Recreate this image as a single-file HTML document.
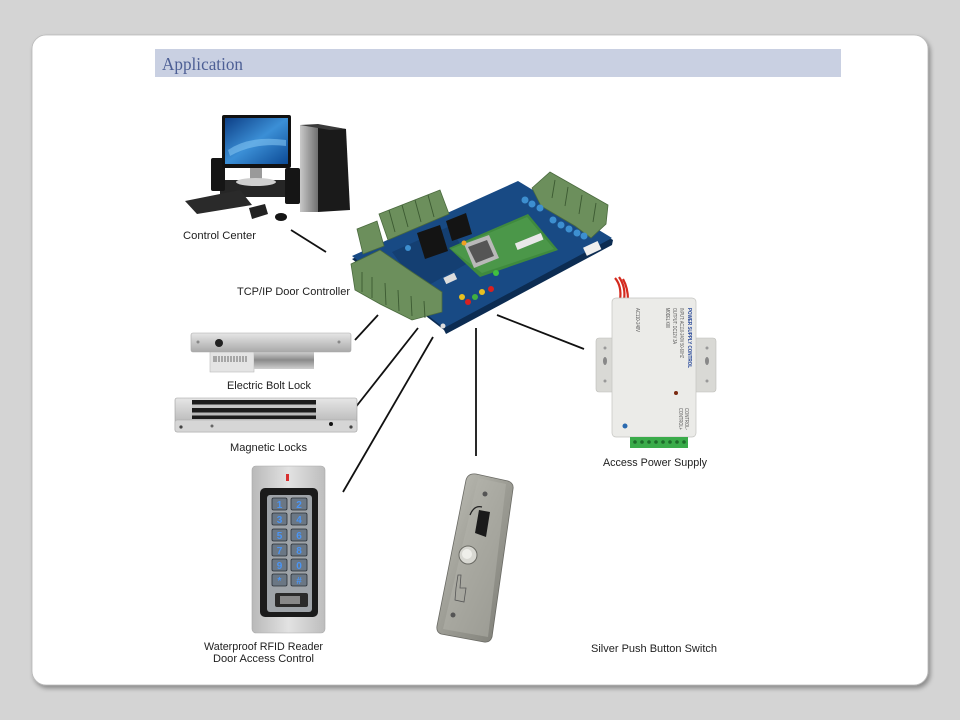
<!DOCTYPE html>
<html><head><meta charset="utf-8"><style>
html,body{margin:0;padding:0;background:#d4d4d4;}
svg{display:block;}
text{font-family:"Liberation Sans",sans-serif;}
</style></head><body>
<svg width="960" height="720" viewBox="0 0 960 720" xmlns="http://www.w3.org/2000/svg">
<defs>
<filter id="sh" x="-5%" y="-5%" width="110%" height="110%"><feDropShadow dx="2" dy="3" stdDeviation="2.5" flood-color="#000" flood-opacity="0.35"/></filter>
<linearGradient id="scr" x1="0" y1="0" x2="1" y2="1"><stop offset="0" stop-color="#0d3f86"/><stop offset="0.5" stop-color="#3b8fd6"/><stop offset="1" stop-color="#0c4a95"/></linearGradient>
<linearGradient id="silv" x1="0" y1="0" x2="0" y2="1"><stop offset="0" stop-color="#e6e6e6"/><stop offset="1" stop-color="#a9a9a9"/></linearGradient>
<linearGradient id="cyl" x1="0" y1="0" x2="0" y2="1"><stop offset="0" stop-color="#d8d8d8"/><stop offset="0.5" stop-color="#8a8a8a"/><stop offset="1" stop-color="#cfcfcf"/></linearGradient>
<linearGradient id="tow" x1="0" y1="0" x2="1" y2="0"><stop offset="0" stop-color="#c9c9c9"/><stop offset="1" stop-color="#6f6f6f"/></linearGradient>
<linearGradient id="btn" x1="0" y1="0" x2="1" y2="1"><stop offset="0" stop-color="#c4c4bc"/><stop offset="0.5" stop-color="#9c9c94"/><stop offset="1" stop-color="#7b7b74"/></linearGradient>
<linearGradient id="rfid" x1="0" y1="0" x2="1" y2="0"><stop offset="0" stop-color="#b9b9b9"/><stop offset="0.5" stop-color="#e2e2e2"/><stop offset="1" stop-color="#bdbdbd"/></linearGradient>
</defs>

<!-- card -->
<rect x="32" y="35" width="896" height="650" rx="14" fill="#fff" stroke="#b8b8b8" stroke-width="0.8" filter="url(#sh)"/>

<!-- header -->
<rect x="155" y="49" width="686" height="28" fill="#c9d0e2"/>
<text x="162" y="70" style="font-family:'Liberation Serif',serif" font-size="18" fill="#4d5f95" textLength="81" lengthAdjust="spacingAndGlyphs">Application</text>

<!-- computer -->
<rect x="220" y="180" width="66" height="17" fill="#262626"/>
<rect x="211" y="158" width="14" height="33" rx="2" fill="#151515"/>
<rect x="285" y="168" width="15" height="36" rx="2" fill="#151515"/>
<rect x="250" y="166" width="12" height="14" fill="#9a9a9a"/>
<ellipse cx="256" cy="182" rx="20" ry="4" fill="#cfcfcf"/>
<rect x="222" y="115" width="69" height="53" rx="2" fill="#111"/>
<rect x="225" y="118" width="63" height="46" fill="url(#scr)"/>
<path d="M228 150 Q250 135 286 140 L286 146 Q255 142 230 156Z" fill="#7fc2f0" opacity="0.6"/>
<rect x="300" y="125" width="18" height="87" fill="url(#tow)"/>
<polygon points="318,125 346,129 350,210 318,212" fill="#1a1a1a"/>
<polygon points="300,125 318,124 346,129 330,130" fill="#3a3a3a"/>
<polygon points="185,201 240,190 252,205 197,214" fill="#2a2a2a"/>
<polygon points="249,208 265,204 268,214 252,219" fill="#222"/>
<ellipse cx="281" cy="217" rx="6" ry="4" fill="#151515"/>

<!-- controller board -->
<polygon points="352,259 518,183 613,240 612,245 446,334 444,330" fill="#0c2c52"/>
<polygon points="352,256 518,181 612,238 444,328" fill="#184a84"/>
<polygon points="392,252 450,226 470,262 420,290" fill="#143f72"/>
<!-- daughter board -->
<polygon points="449,248 528,214 558,250 480,277" fill="#3f8a3e"/>
<polygon points="451,249 527,217 554,249 482,273" fill="#4f9a4c" opacity="0.8"/>
<rect x="515" y="238" width="28" height="7" fill="#e8e8e8" transform="rotate(-22 529 241)"/>
<!-- ethernet -->
<polygon points="464,244 489,235 499,258 474,268" fill="#b9b9b9"/>
<polygon points="468,247 487,240 494,256 476,263" fill="#555"/>
<!-- relays -->
<polygon points="417,233 440,225 448,251 425,259" fill="#141414"/>
<polygon points="446,221 466,213 472,234 452,241" fill="#141414"/>
<!-- terminal blocks -->
<g fill="#6c8f5c" stroke="#4a6a3e" stroke-width="0.8">
<polygon points="379,214 440,190 449,214 388,240"/>
<polygon points="357,229 377,221 384,246 363,254"/>
<polygon points="351,264 380,250 412,272 442,292 442,312 412,320 380,304 355,290"/>
<polygon points="532,188 550,172 608,205 606,224 591,238 575,226 541,206"/>
</g>
<g stroke="#3c5a32" stroke-width="0.9">
<line x1="389" y1="210" x2="395" y2="232"/><line x1="402" y1="205" x2="408" y2="227"/><line x1="415" y1="200" x2="421" y2="222"/><line x1="428" y1="195" x2="434" y2="217"/>
<line x1="362" y1="272" x2="362" y2="292"/><line x1="372" y1="277" x2="372" y2="298"/><line x1="385" y1="283" x2="386" y2="305"/><line x1="398" y1="290" x2="399" y2="311"/><line x1="411" y1="296" x2="412" y2="316"/><line x1="424" y1="301" x2="425" y2="318"/>
<line x1="555" y1="180" x2="552" y2="198"/><line x1="568" y1="187" x2="565" y2="206"/><line x1="582" y1="195" x2="579" y2="214"/><line x1="596" y1="203" x2="593" y2="222"/>
</g>
<!-- capacitors -->
<g fill="#3d8fd0">
<circle cx="525" cy="200" r="3.5"/><circle cx="532" cy="204" r="3.5"/><circle cx="540" cy="208" r="3.5"/>
<circle cx="553" cy="220" r="3.5"/><circle cx="561" cy="225" r="3.5"/><circle cx="569" cy="229" r="3.5"/><circle cx="577" cy="233" r="3.5"/><circle cx="584" cy="236" r="3.5"/>
<circle cx="408" cy="248" r="3"/>
</g>
<rect x="584" y="244" width="16" height="9" fill="#eee" transform="rotate(-25 592 248)"/>
<!-- LEDs -->
<circle cx="462" cy="297" r="3" fill="#e8c020"/><circle cx="468" cy="302" r="3" fill="#d82020"/><circle cx="475" cy="297" r="3" fill="#40b040"/>
<circle cx="482" cy="292" r="3" fill="#e8c020"/><circle cx="491" cy="289" r="3" fill="#d82020"/><circle cx="496" cy="273" r="3" fill="#40c040"/><circle cx="464" cy="243" r="2.5" fill="#f0a020"/>
<rect x="444" y="275" width="12" height="7" fill="#ddd" transform="rotate(-25 450 278)"/>
<circle cx="443" cy="326" r="2.5" fill="#ddd"/>

<!-- connector lines -->
<g stroke="#111" stroke-width="1.8" fill="none">
<line x1="291" y1="230" x2="326" y2="252"/>
<line x1="355" y1="340" x2="378" y2="315"/>
<line x1="355" y1="408" x2="418" y2="328"/>
<line x1="343" y1="492" x2="433" y2="337"/>
<line x1="476" y1="328" x2="476" y2="456"/>
<line x1="497" y1="315" x2="584" y2="349"/>
</g>

<!-- electric bolt lock -->
<rect x="210" y="351" width="44" height="21" fill="#e4e4e4" stroke="#bbb" stroke-width="0.6"/>
<g stroke="#333" stroke-width="0.7"><line x1="214" y1="356" x2="214" y2="362"/><line x1="216" y1="356" x2="216" y2="362"/><line x1="219" y1="356" x2="219" y2="362"/><line x1="222" y1="356" x2="222" y2="362"/><line x1="225" y1="356" x2="225" y2="362"/><line x1="228" y1="356" x2="228" y2="362"/><line x1="231" y1="356" x2="231" y2="362"/><line x1="234" y1="356" x2="234" y2="362"/><line x1="237" y1="356" x2="237" y2="362"/><line x1="240" y1="356" x2="240" y2="362"/><line x1="243" y1="356" x2="243" y2="362"/><line x1="246" y1="356" x2="246" y2="362"/></g>
<rect x="254" y="351" width="60" height="18" fill="url(#cyl)"/>
<rect x="191" y="333" width="160" height="19" rx="2" fill="url(#silv)" stroke="#a8a8a8" stroke-width="0.6"/>
<circle cx="219" cy="343" r="4" fill="#222"/>
<circle cx="198" cy="342" r="1.5" fill="#888"/><circle cx="339" cy="342" r="1.5" fill="#888"/>

<!-- magnetic lock -->
<rect x="175" y="398" width="182" height="34" rx="2" fill="url(#silv)" stroke="#9c9c9c" stroke-width="0.6"/>
<rect x="175" y="420" width="182" height="12" rx="2" fill="#d6d6d6" stroke="#a6a6a6" stroke-width="0.5"/>
<rect x="192" y="400" width="124" height="19" fill="#1c1c1c"/>
<rect x="192" y="404.5" width="124" height="3.5" fill="#c6c6c6"/>
<rect x="192" y="412.5" width="124" height="3" fill="#b9b9b9"/>
<circle cx="181" cy="427" r="1.6" fill="#444"/><circle cx="212" cy="426" r="1.5" fill="#666"/><circle cx="331" cy="424" r="2" fill="#111"/><circle cx="351" cy="427" r="1.6" fill="#444"/>

<!-- power supply -->
<path d="M615 278 Q622 286 620 300 M619 277 Q626 287 624 300 M623 279 Q628 288 628 300" stroke="#d42a1e" stroke-width="2.2" fill="none"/>
<rect x="596" y="338" width="120" height="54" rx="3" fill="#d9d9d5" stroke="#bdbdb8" stroke-width="0.6"/>
<ellipse cx="605" cy="361" rx="2" ry="4" fill="#888"/><ellipse cx="707" cy="361" rx="2" ry="4" fill="#888"/>
<circle cx="605" cy="348" r="1.5" fill="#999"/><circle cx="707" cy="348" r="1.5" fill="#999"/><circle cx="605" cy="381" r="1.5" fill="#999"/><circle cx="707" cy="381" r="1.5" fill="#999"/>
<rect x="612" y="298" width="84" height="139" rx="4" fill="#ebebe8" stroke="#c4c4c0" stroke-width="0.7"/>
<g font-size="5" fill="#2a4a9a" style="font-family:'Liberation Sans',sans-serif">
<text transform="translate(688,308) rotate(90)" font-weight="bold" textLength="60" lengthAdjust="spacingAndGlyphs">POWER SUPPLY CONTROL</text>
<text transform="translate(680,308) rotate(90)" fill="#555" textLength="50" lengthAdjust="spacingAndGlyphs">INPUT: AC110-240V 50-60HZ</text>
<text transform="translate(673,308) rotate(90)" fill="#555" textLength="36" lengthAdjust="spacingAndGlyphs">OUTPUT: DC12V 3A</text>
<text transform="translate(666,308) rotate(90)" fill="#555" textLength="20" lengthAdjust="spacingAndGlyphs">MODEL K80</text>
<text transform="translate(636,308) rotate(90)" fill="#555" textLength="24" lengthAdjust="spacingAndGlyphs">AC110-240V</text>
<text transform="translate(685,408) rotate(90)" fill="#555" textLength="22" lengthAdjust="spacingAndGlyphs">CONTROL-</text>
<text transform="translate(679,408) rotate(90)" fill="#555" textLength="22" lengthAdjust="spacingAndGlyphs">CONTROL+</text>
</g>
<circle cx="676" cy="393" r="2" fill="#7a2a10"/>
<circle cx="625" cy="426" r="2.5" fill="#2a6ab0"/>
<rect x="630" y="437" width="58" height="11" fill="#3aab4a"/>
<g fill="#1d6b2a"><circle cx="635" cy="442" r="1.8"/><circle cx="642" cy="442" r="1.8"/><circle cx="649" cy="442" r="1.8"/><circle cx="656" cy="442" r="1.8"/><circle cx="663" cy="442" r="1.8"/><circle cx="670" cy="442" r="1.8"/><circle cx="677" cy="442" r="1.8"/><circle cx="684" cy="442" r="1.8"/></g>

<!-- RFID reader -->
<rect x="252" y="466" width="73" height="167" rx="4" fill="url(#rfid)" stroke="#a9a9a9" stroke-width="0.6"/>
<rect x="286" y="474" width="3" height="7" fill="#d83030"/>
<rect x="260" y="488" width="58" height="129" rx="5" fill="#1b1b1b"/>
<rect x="267" y="495" width="45" height="117" rx="3" fill="#9ea3a8"/>
<g fill="#6b7784" stroke="#2a2f35" stroke-width="0.8">
<rect x="272" y="498" width="15" height="12" rx="1.5"/><rect x="291" y="498" width="16" height="12" rx="1.5"/>
<rect x="272" y="513" width="15" height="12" rx="1.5"/><rect x="291" y="513" width="16" height="12" rx="1.5"/>
<rect x="272" y="529" width="15" height="12" rx="1.5"/><rect x="291" y="529" width="16" height="12" rx="1.5"/>
<rect x="272" y="544" width="15" height="12" rx="1.5"/><rect x="291" y="544" width="16" height="12" rx="1.5"/>
<rect x="272" y="559" width="15" height="12" rx="1.5"/><rect x="291" y="559" width="16" height="12" rx="1.5"/>
<rect x="272" y="574" width="15" height="12" rx="1.5"/><rect x="291" y="574" width="16" height="12" rx="1.5"/>
</g>
<g fill="#4a95f5" font-size="10" font-weight="bold" text-anchor="middle" style="font-family:'Liberation Sans',sans-serif">
<text x="279.5" y="508">1</text><text x="299" y="508">2</text>
<text x="279.5" y="523">3</text><text x="299" y="523">4</text>
<text x="279.5" y="539">5</text><text x="299" y="539">6</text>
<text x="279.5" y="554">7</text><text x="299" y="554">8</text>
<text x="279.5" y="569">9</text><text x="299" y="569">0</text>
<text x="279.5" y="584">*</text><text x="299" y="584">#</text>
</g>
<rect x="275" y="593" width="33" height="14" rx="2" fill="#2a2a2a"/>
<rect x="280" y="596" width="20" height="8" fill="#888"/>

<!-- push button -->
<path d="M476 474 L508 481 Q514 483 513 489 L492 637 Q490 643 484 642 L441 634 Q436 632 437 626 L466 480 Q468 473 476 474Z" fill="url(#btn)" stroke="#6a6a64" stroke-width="0.8"/>
<path d="M478 478 L506 484 L488 637 L443 629 Z" fill="#b3b3ab" opacity="0.5"/>
<circle cx="485" cy="494" r="2.5" fill="#555"/>
<circle cx="453" cy="615" r="2.5" fill="#555"/>
<polygon points="479,510 490,512 486,537 475,533" fill="#1a1a1a"/>
<path d="M470 515 Q474 505 482 507" stroke="#222" stroke-width="1.2" fill="none"/>
<circle cx="468" cy="555" r="9" fill="#d8d8d2" stroke="#6a6a64" stroke-width="1"/>
<circle cx="467" cy="554" r="5" fill="#efefea"/>
<path d="M458 575 L461 575 L460 588 L466 588 L464 602 L455 600 L456 588 Z" fill="none" stroke="#555" stroke-width="0.8"/>

<!-- labels -->
<g font-size="11" fill="#1e1e1e">
<text x="183" y="239" textLength="73" lengthAdjust="spacingAndGlyphs">Control Center</text>
<text x="237" y="295" textLength="113" lengthAdjust="spacingAndGlyphs">TCP/IP Door Controller</text>
<text x="227" y="389" textLength="84" lengthAdjust="spacingAndGlyphs">Electric Bolt Lock</text>
<text x="230" y="451" textLength="77" lengthAdjust="spacingAndGlyphs">Magnetic Locks</text>
<text x="204" y="650" textLength="119" lengthAdjust="spacingAndGlyphs">Waterproof RFID Reader</text>
<text x="213" y="662" textLength="101" lengthAdjust="spacingAndGlyphs">Door Access Control</text>
<text x="603" y="466" textLength="104" lengthAdjust="spacingAndGlyphs">Access Power Supply</text>
<text x="591" y="652" textLength="126" lengthAdjust="spacingAndGlyphs">Silver Push Button Switch</text>
</g>
</svg>
</body></html>
